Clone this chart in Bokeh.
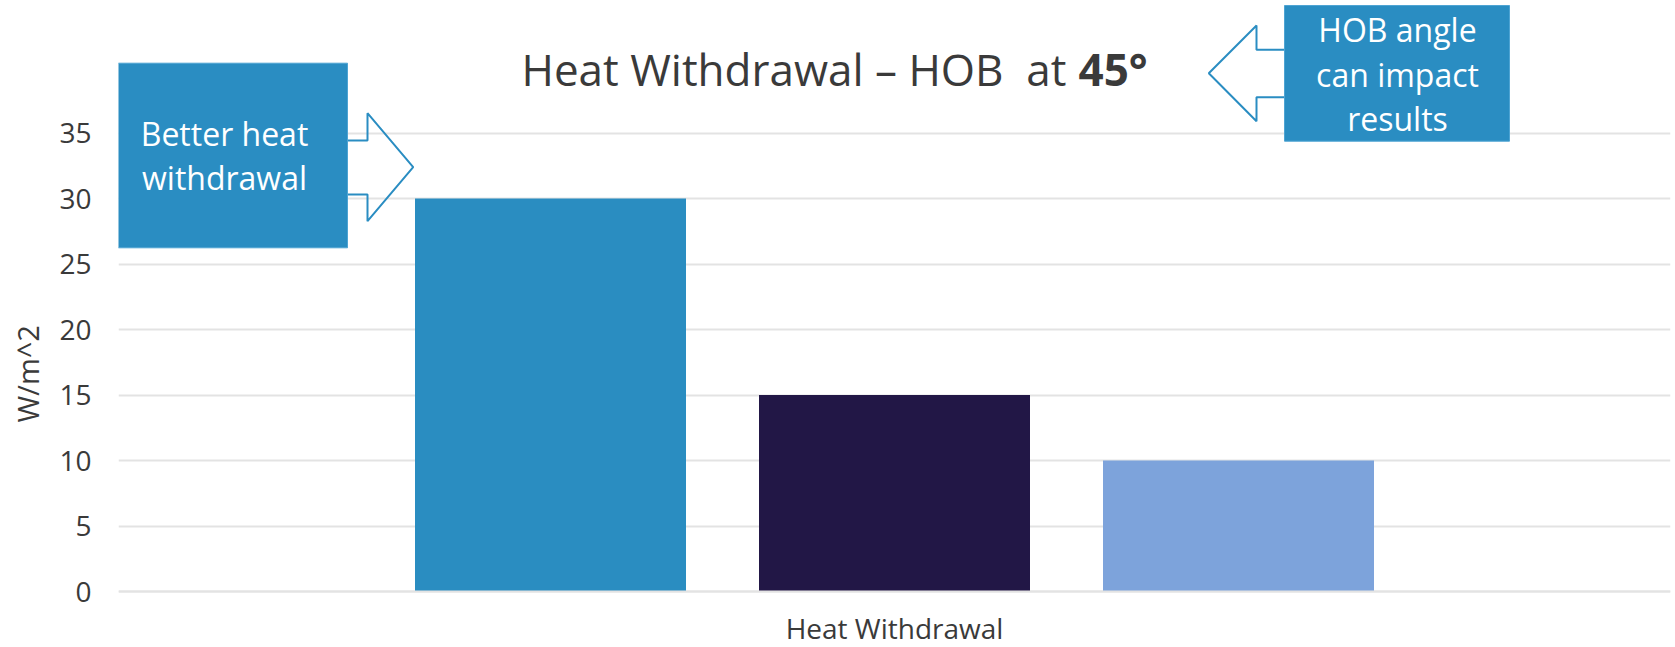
import math
from bokeh.plotting import figure
from bokeh.models import ColumnDataSource, Range1d, FactorRange, FixedTicker, Label, Title
from bokeh.transform import dodge
from bokeh.embed import file_html
from bokeh.resources import INLINE

# ---------------- data ----------------
categories = ["Heat Withdrawal"]
series_names = ["Series 1", "Series 2", "Series 3"]
series_values = [30, 15, 10]
series_colors = ["#2A8DC1", "#221746", "#7DA3DB"]
y_ticks = [0, 5, 10, 15, 20, 25, 30, 35]
title_main = "Heat Withdrawal \u2013 HOB\u00a0 at"
title_bold = "45\u00b0"
y_label = "W/m^2"
note_left = ["Better heat", "withdrawal"]
note_right = ["HOB angle", "can impact", "results"]

# ---------------- layout (pixels) ----------------
W, H = 1675, 647
FL, FR, FB = 118, 1670, 591   # frame left/right and pixel row of y = 0
PX_PER_UNIT = (591 - 132.5) / 35.0
FONT = "Open Sans"
TXT = "#3a3a3a"
GRID = "#e3e3e3"
BLUE = "#2A8DC2"
DESC = 0.33  # baseline correction (fraction of font size)


def X(px):
    return (px - FL) / (FR - FL)


def Y(py):
    return (FB - py) / PX_PER_UNIT


p = figure(width=W, height=H, output_backend="svg", toolbar_location=None,
           x_range=FactorRange(factors=categories, range_padding=0),
           y_range=Range1d(Y(H), Y(0)),
           min_border_left=FL, min_border_right=W - FR,
           min_border_top=0, min_border_bottom=0)
p.outline_line_color = None
p.background_fill_color = "white"
p.border_fill_color = "white"

bar_w = 271 / (FR - FL)
pitch = 344 / (FR - FL)
for i, (name, val, col) in enumerate(zip(series_names, series_values, series_colors)):
    src = ColumnDataSource(dict(cat=categories, val=[val]))
    p.vbar(x=dodge("cat", (i - 1) * pitch, range=p.x_range), top="val", bottom=0,
           width=bar_w, source=src, fill_color=col, line_color=None)

# axes
p.yaxis.ticker = FixedTicker(ticks=y_ticks)
p.yaxis.axis_line_color = None
p.yaxis.major_tick_line_color = None
p.yaxis.minor_tick_line_color = None
p.yaxis.major_tick_out = 0
p.yaxis.major_tick_in = 0
p.yaxis.major_label_standoff = 27
p.yaxis.major_label_text_font = FONT
p.yaxis.major_label_text_font_size = "28px"
p.yaxis.major_label_text_color = TXT

p.xaxis.fixed_location = 0
p.xaxis.axis_line_color = GRID
p.xaxis.axis_line_width = 2
p.xaxis.major_tick_line_color = None
p.xaxis.minor_tick_line_color = None
p.xaxis.major_tick_out = 0
p.xaxis.major_tick_in = 0
p.xaxis.major_label_standoff = 17
p.xaxis.major_label_text_font = FONT
p.xaxis.major_label_text_font_size = "28px"
p.xaxis.major_label_text_color = TXT

p.xgrid.grid_line_color = None
p.ygrid.grid_line_color = GRID
p.ygrid.grid_line_width = 2

# left side: a blank spacer panel, then the y axis title
spacer = Title(text=".", text_color="white", text_font_size="11px", standoff=0,
               text_font=FONT)
p.add_layout(spacer, "left")
ytitle = Title(text=y_label, align="left", offset=225, standoff=0,
               text_font=FONT, text_font_size="29px", text_font_style="normal",
               text_color=TXT)
p.add_layout(ytitle, "left")

# arrows (outlined block arrows)
arrow_r = [(322, 140), (367, 140), (367, 112.7), (412.7, 166.7), (367, 220.7), (367, 194), (322, 194)]
arrow_l = [(1300, 49.3), (1256, 49.3), (1256, 25), (1208.3, 72.7), (1256, 120.7), (1256, 96.7), (1300, 96.7)]
for pts in (arrow_r, arrow_l):
    p.patch([X(a) for a, b in pts], [Y(b) for a, b in pts], fill_color=None,
            line_color=BLUE, line_width=2)

# note boxes
p.quad(left=[X(117), X(1284)], right=[X(347), X(1509)],
       top=[Y(62.7), Y(5)], bottom=[Y(247.3), Y(140.7)],
       fill_color=BLUE, line_color="#4ea4d3", line_width=1)

NS = 32
for txt, by in zip(note_left, [143.5, 188]):
    p.add_layout(Label(x=X(224), y=Y(by - DESC * NS), text=txt, text_font=FONT,
                       text_font_size=f"{NS}px", text_color="white", text_align="center",
                       text_baseline="alphabetic"))
for txt, by in zip(note_right, [40, 85, 128.3]):
    p.add_layout(Label(x=X(1397), y=Y(by - DESC * NS), text=txt, text_font=FONT,
                       text_font_size=f"{NS}px", text_color="white", text_align="center",
                       text_baseline="alphabetic"))

# title
TS = 44
p.add_layout(Label(x=X(1066), y=Y(83.3 - DESC * TS), text=title_main, text_font=FONT,
                   text_font_size=f"{TS}px", text_color=TXT, text_align="right",
                   text_baseline="alphabetic"))
p.add_layout(Label(x=X(1078), y=Y(83.3 - DESC * TS), text=title_bold, text_font=FONT,
                   text_font_size=f"{TS}px", text_font_style="bold", text_color=TXT,
                   text_align="left", text_baseline="alphabetic"))

open("out.html", "w").write(file_html(p, INLINE))
